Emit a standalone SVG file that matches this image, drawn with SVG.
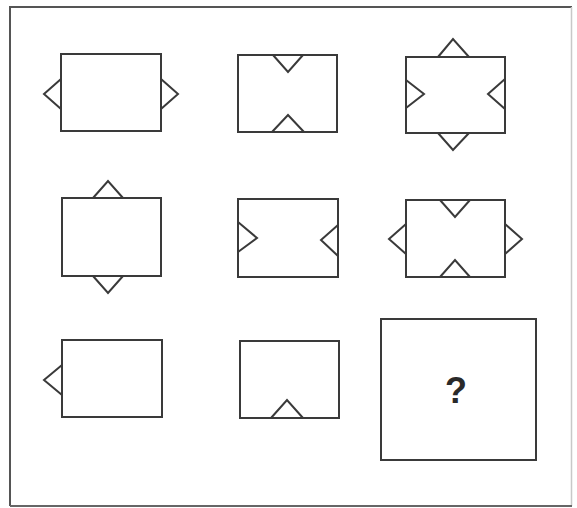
<svg xmlns="http://www.w3.org/2000/svg" width="577" height="508" viewBox="0 0 577 508">
<style>
.s{fill:none;stroke:#3a3a3a;stroke-width:2;stroke-linejoin:miter}
.q{font-family:"Liberation Sans",Arial,sans-serif;font-weight:bold;font-size:36px;fill:#2a2a2a;text-anchor:middle}
</style>
<rect width="577" height="508" fill="#fff"/>
<g id="frame"><polyline points="10,506 10,7 572,7" fill="none" stroke="#555" stroke-width="2"/><line x1="571.5" y1="7" x2="571.5" y2="506" stroke="#c8c8c8" stroke-width="1.5"/><line x1="10" y1="506" x2="572" y2="506" stroke="#666" stroke-width="2"/></g>
<g id="n1"><rect class="s" x="61" y="54" width="100" height="77"/><polyline class="s" points="61,79 44,94 61,109"/><polyline class="s" points="161,79 178,94 161,109"/></g>
<g id="n2"><rect class="s" x="238" y="55" width="99" height="77"/><polyline class="s" points="273,55 288,72 303,55"/><polyline class="s" points="272,132 288,115 304,132"/></g>
<g id="n3"><rect class="s" x="406" y="57" width="99" height="76"/><polyline class="s" points="438,57 453,39 469,57"/><polyline class="s" points="438,133 453,150 469,133"/><polyline class="s" points="406,80 424,94 406,108"/><polyline class="s" points="505,79 488,94 505,109"/></g>
<g id="n4"><rect class="s" x="62" y="198" width="99" height="78"/><polyline class="s" points="93,198 108,181 123,198"/><polyline class="s" points="93,276 108,293 123,276"/></g>
<g id="n5"><rect class="s" x="238" y="199" width="100" height="78"/><polyline class="s" points="238,222 257,238 238,252"/><polyline class="s" points="338,225 321,240 338,256"/></g>
<g id="n6"><rect class="s" x="406" y="200" width="99" height="77"/><polyline class="s" points="440,200 455,217 470,200"/><polyline class="s" points="440,277 455,260 470,277"/><polyline class="s" points="406,224 389,239 406,254"/><polyline class="s" points="505,224 522,239 505,254"/></g>
<g id="n7"><rect class="s" x="62" y="340" width="100" height="77"/><polyline class="s" points="62,365 44,380 62,395"/></g>
<g id="n8"><rect class="s" x="240" y="341" width="99" height="77"/><polyline class="s" points="271,418 287,400 303,418"/></g>
<g id="n9"><rect class="s" x="381" y="319" width="155" height="141"/><text class="q" x="456" y="403">?</text></g>
</svg>
